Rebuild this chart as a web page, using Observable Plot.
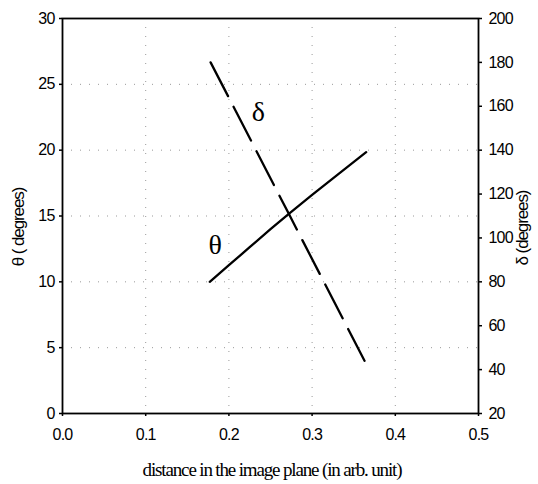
<!DOCTYPE html>
<html>
<head>
<meta charset="utf-8">
<script src="https://cdn.jsdelivr.net/npm/d3@7"></script>
<script src="https://cdn.jsdelivr.net/npm/@observablehq/plot@0.6"></script>
<style>
  html, body { margin: 0; padding: 0; background: #fff; }
  #chart { width: 538px; height: 484px; }
  svg text { fill: #000; }
</style>
</head>
<body>
<div id="chart"></div>
<script>
// θ curve (left axis, degrees)
const thetaX = [0.177, 0.200, 0.225, 0.250, 0.272, 0.300, 0.330, 0.365];
const thetaY = [10.0, 11.26, 12.63, 14.0, 15.17, 16.6, 18.1, 19.85];
// δ curve (right axis, degrees)
const deltaX = [0.178, 0.272, 0.363];
const deltaY = [180, 111, 44];

// tick labels
const xTicks = [0, 0.1, 0.2, 0.3, 0.4, 0.5];
const thetaTicks = [0, 5, 10, 15, 20, 25, 30];
const deltaTicks = [20, 40, 60, 80, 100, 120, 140, 160, 180, 200];
const gridTheta = [5, 10, 15, 20, 25];
const gridX = [0.1, 0.2, 0.3, 0.4];

// δ domain [20,200] maps onto θ domain [0,30]
const d2t = d => (d - 20) / 6;
const t2d = t => Math.round(t * 6 + 20);

const thetaData = thetaX.map((x, i) => ({x, y: thetaY[i]}));
const deltaData = deltaX.map((x, i) => ({x, y: d2t(deltaY[i])}));

const sans = "'Liberation Sans', Arial, sans-serif";
const serif = "'Liberation Serif', 'Times New Roman', serif";

const chart = Plot.plot({
  width: 538,
  height: 484,
  marginLeft: 62,
  marginRight: 60,
  marginTop: 18,
  marginBottom: 71,
  style: {background: "#fff", color: "#000", fontFamily: sans, fontSize: "16px", letterSpacing: "-0.8px"},
  x: {domain: [0, 0.5]},
  y: {domain: [0, 30]},
  marks: [
    Plot.ruleY(gridTheta, {stroke: "#999", strokeWidth: 1, strokeDasharray: "1,8"}),
    Plot.ruleX(gridX, {stroke: "#999", strokeWidth: 1, strokeDasharray: "1,8"}),
    Plot.frame({stroke: "#000", strokeWidth: 1.8}),
    Plot.axisX({ticks: xTicks, tickFormat: d3.format(".1f"), tickSize: 3, tickPadding: 12, label: null, strokeWidth: 1.5, fontSize: 16}),
    Plot.axisY({ticks: thetaTicks, tickFormat: d => d, tickSize: 3, tickPadding: 5, label: null, strokeWidth: 1.5, fontSize: 16}),
    Plot.axisY({anchor: "right", ticks: deltaTicks.map(d2t), tickFormat: t2d, tickSize: 3, tickPadding: 7, label: null, strokeWidth: 1.5, fontSize: 16}),
    Plot.line(thetaData, {x: "x", y: "y", stroke: "#000", strokeWidth: 2.3, curve: "linear"}),
    Plot.line(deltaData, {x: "x", y: "y", stroke: "#000", strokeWidth: 2.3, strokeDasharray: "38,12"}),
    Plot.text(["δ"], {x: 0.235, y: 22.9, text: d => d, fontFamily: serif, fontSize: 28, lineAnchor: "middle", textAnchor: "middle"}),
    Plot.text(["θ"], {x: 0.183, y: 12.76, text: d => d, fontFamily: serif, fontSize: 28, lineAnchor: "middle", textAnchor: "middle"})
  ]
});

// Axis titles positioned in the SVG's outer margins
const svg = d3.select(chart);
svg.append("text")
  .attr("x", 272).attr("y", 476)
  .attr("text-anchor", "middle")
  .style("font-family", serif)
  .style("font-size", "19px")
  .style("letter-spacing", "-1.15px")
  .text("distance in the image plane (in arb. unit)");
svg.append("text")
  .attr("transform", "translate(20,227) rotate(-90)")
  .attr("text-anchor", "middle")
  .attr("dominant-baseline", "middle")
  .style("font-family", sans)
  .style("font-size", "17px")
  .style("letter-spacing", "-1.1px")
  .text("θ ( degrees)");
svg.append("text")
  .attr("transform", "translate(524,228) rotate(-90)")
  .attr("text-anchor", "middle")
  .attr("dominant-baseline", "middle")
  .style("font-family", sans)
  .style("font-size", "17px")
  .style("letter-spacing", "-1.1px")
  .text("δ (degrees)");

document.getElementById("chart").appendChild(chart);
</script>
</body>
</html>
